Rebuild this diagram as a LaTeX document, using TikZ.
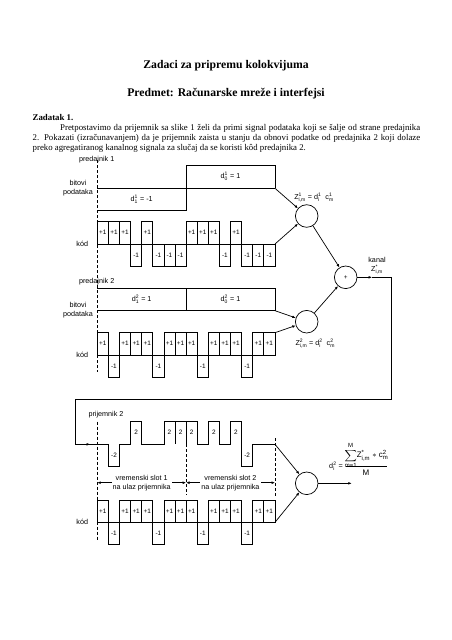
\documentclass[tikz,border=0pt]{standalone}
\usepackage{amsmath}
\usepackage{fontspec}
\setmainfont{Liberation Serif}
\newfontfamily\labelfont{Liberation Sans}
\usetikzlibrary{arrows.meta}
\newcommand{\idx}[2]{$^{\text{#1}}_{\text{#2}}$}
\newcommand{\chipwave}[3]{%
    \draw[line] (97.3,#2) -- (275,#2);
    \foreach \val [count=\n from 0] in {#3} {
        \pgfmathsetmacro{\xa}{97.3+\n*11.1}
        \pgfmathsetmacro{\xb}{\xa+11.1}
        \pgfmathsetmacro{\xm}{\xa+5.55}
        \pgfmathsetmacro{\ya}{#2-(\val)*22.3}
        \pgfmathsetmacro{\ym}{#2-(\val)*11.4}
        \draw[line] (\xa,#2) rectangle (\xb,\ya);
        \node[chip] (#1\n) at (\xm,\ym) {\val};
    }
}

\begin{document}
\begin{tikzpicture}[
    x=1pt,y=-1pt,
    line/.style={line width=0.8pt},
    conn/.style={line width=0.7pt,-{Latex[length=3.4pt,width=2.8pt]}},
    slot/.style={line width=0.7pt,dashed,dash pattern=on 3pt off 2pt},
    lbl/.style={font=\labelfont\fontsize{7.2}{9}\selectfont,inner sep=0pt,align=center},
    chip/.style={font=\labelfont\fontsize{6.4}{7}\selectfont,inner sep=0pt},
    mult/.style={circle,draw,line width=0.7pt,minimum size=22.6pt,inner sep=0pt},
    title/.style={font=\bfseries\fontsize{11.7}{14}\selectfont,inner sep=0pt},
    body/.style={font=\fontsize{8.8}{10}\selectfont,inner sep=0pt,anchor=west}
]
\useasboundingbox (0,0) rectangle (452,640);

\node[title] (head1) at (226,66) {Zadaci za pripremu kolokvijuma};
\node[title] (head2) at (226,93.3) {Predmet: Računarske mreže i interfejsi};
\node[body,font=\bfseries\fontsize{8.8}{10}\selectfont] (task) at (32.5,118) {Zadatak 1.};
\node[body] (par1) at (60,128.3) {\makebox[360pt][s]{Pretpostavimo da prijemnik sa slike 1 želi da primi signal podataka koji se šalje od strane predajnika}};
\node[body] (par2) at (32.5,138.3) {\makebox[387.5pt][s]{2. Pokazati (izračunavanjem) da je prijemnik zaista u stanju da obnovi podatke od predajnika 2 koji dolaze}};
\node[body] (par3) at (32.5,148.3) {preko agregatiranog kanalnog signala za slučaj da se koristi kôd predajnika 2.};

% predajnik 1
\draw[line] (97.3,188.3) -- (275,188.3);
\draw[line] (97.3,210.3) -- (186.1,210.3) -- (186.1,165.7) -- (275,165.7) -- (275,188.3);
\chipwave{ca}{244}{+1,+1,+1,-1,+1,-1,-1,-1,+1,+1,+1,-1,+1,-1,-1,-1}

% predajnik 2
\draw[line] (97.3,288.3) -- (275,288.3) -- (275,310.7) -- (97.3,310.7);
\draw[line] (186.1,288.3) -- (186.1,310.7);
\chipwave{cb}{355}{+1,-1,+1,+1,+1,-1,+1,+1,+1,-1,+1,+1,+1,-1,+1,+1}

% prijemnik 2
\draw[line]
    (97.3,444.3) -- (108.4,444.3) -- (108.4,466.7) -- (119.5,466.7) -- (119.5,444.3)
    -- (130.6,444.3) -- (130.6,421.7) -- (141.7,421.7) -- (141.7,444.3)
    -- (163.9,444.3) -- (163.9,421.7) -- (197.2,421.7) -- (197.2,444.3)
    -- (208.3,444.3) -- (208.3,421.7) -- (219.4,421.7) -- (219.4,444.3)
    -- (230.5,444.3) -- (230.5,421.7) -- (241.6,421.7) -- (241.6,466.7)
    -- (252.7,466.7) -- (252.7,444.3) -- (275,444.3);
\draw[line] (175,421.7) -- (175,444.3);
\draw[line] (186.1,421.7) -- (186.1,444.3);
\chipwave{cc}{522.3}{+1,-1,+1,+1,+1,-1,+1,+1,+1,-1,+1,+1,+1,-1,+1,+1}

\node[chip] (s1) at (114,455.5) {-2};
\node[chip] (s2) at (136.2,432.5) {2};
\node[chip] (s3) at (169.5,432.5) {2};
\node[chip] (s4) at (180.6,432.5) {2};
\node[chip] (s5) at (191.7,432.5) {2};
\node[chip] (s6) at (213.9,432.5) {2};
\node[chip] (s7) at (236,432.5) {2};
\node[chip] (s8) at (247.2,455.5) {-2};

\draw[slot] (97.3,160) -- (97.3,372);
\draw[slot] (97.3,421.7) -- (97.3,540);
\draw[slot] (186.1,444.3) -- (186.1,495);
\draw[slot] (275,438) -- (275,497);

% vremenski slotovi
\draw[line,{Latex[length=3.4pt,width=2.8pt]}-{Latex[length=3.4pt,width=2.8pt]}] (97.3,482.7) -- (186.1,482.7);
\draw[line,{Latex[length=3.4pt,width=2.8pt]}-{Latex[length=3.4pt,width=2.8pt]}] (186.1,482.7) -- (275,482.7);
\node[lbl,fill=white,inner xsep=1pt] (slota) at (141.7,483) {vremenski slot 1\\na ulaz prijemnika};
\node[lbl,fill=white,inner xsep=1pt] (slotb) at (230.5,483) {vremenski slot 2\\na ulaz prijemnika};

\node[lbl] (who1) at (96.7,160) {predajnik 1};
\node[lbl] (who2) at (96.7,281.7) {predajnik 2};
\node[lbl] (who3) at (106,415) {prijemnik 2};
\node[lbl] (bits1) at (78,188.5) {bitovi\\podataka};
\node[lbl] (bits2) at (78,310.5) {bitovi\\podataka};
\node[lbl] (code1) at (82.3,244) {kód};
\node[lbl] (code2) at (82.3,355) {kód};
\node[lbl] (code3) at (82.3,522) {kód};
\node[lbl] (da1) at (141.7,199) {d\idx{1}{1} = -1};
\node[lbl] (da0) at (230.5,176.7) {d\idx{1}{0} = 1};
\node[lbl] (db1) at (141.7,299) {d\idx{2}{1} = 1};
\node[lbl] (db0) at (230.5,299) {d\idx{2}{0} = 1};

% mnozaci i sabirac
\node[mult] (mula) at (306.7,216) {};
\node[mult] (mulb) at (306.7,321.7) {};
\node[mult] (adder) at (345.7,277.3) {};
\node[mult] (mulc) at (306.7,483.3) {};
\node[chip] (plus) at (345.7,277.3) {+};

\node[lbl] (za) at (314,197.7) {Z\idx{1}{i,m} = d\idx{1}{i} \ c\idx{1}{m}};
\node[lbl] (zb) at (315.3,343.7) {Z\idx{2}{i,m} = d\idx{2}{i} \ c\idx{2}{m}};
\node[lbl] (chan) at (377,265.5) {kanal\\Z\idx{*}{i,m}};

\coordinate (enda) at (275,188.3);
\coordinate (endb) at (275,244);
\coordinate (endc) at (275,310.7);
\coordinate (endd) at (275,332.7);
\coordinate (ende) at (275,444.3);
\coordinate (endf) at (275,522.3);
\coordinate (chanmid) at (372,277.3);
\coordinate (chanr) at (391.7,277.3);
\coordinate (chanb) at (391.7,399);
\coordinate (chanl) at (75,399);
\coordinate (chans) at (75,444.3);
\coordinate (sigmid) at (90,444.3);
\coordinate (sigin) at (97.3,444.3);
\coordinate (out) at (351.7,483.3);

\draw[conn] (enda) -- (mula);
\draw[conn] (endb) -- (mula);
\draw[conn] (endc) -- (mulb);
\draw[conn] (endd) -- (mulb);
\draw[conn] (mula) -- (adder);
\draw[conn] (mulb) -- (adder);
\draw[conn] (adder) -- (chanmid);
\draw[line] (chanmid) -- (chanr) -- (chanb) -- (chanl) -- (chans) -- (sigmid);
\draw[conn] (chans) -- (sigmid);
\draw[line] (sigmid) -- (sigin);
\draw[conn] (ende) -- (mulc);
\draw[conn] (endf) -- (mulc);
\draw[conn] (mulc) -- (out);

% formula
\node[lbl] (dest) at (336,466.5) {d\idx{2}{i} =};
\node[lbl,font=\labelfont\fontsize{8}{9}\selectfont] (numer) at (366.5,455.5) {$\displaystyle\sum_{\text{m=1}}^{\text{M}}$Z\idx{*}{i,m} $*$ c\idx{2}{m}};
\node[lbl,font=\labelfont\fontsize{8}{9}\selectfont] (denom) at (366,473) {M};
\draw[line] (346,466.7) -- (386.7,466.7);

\end{tikzpicture}
\end{document}
